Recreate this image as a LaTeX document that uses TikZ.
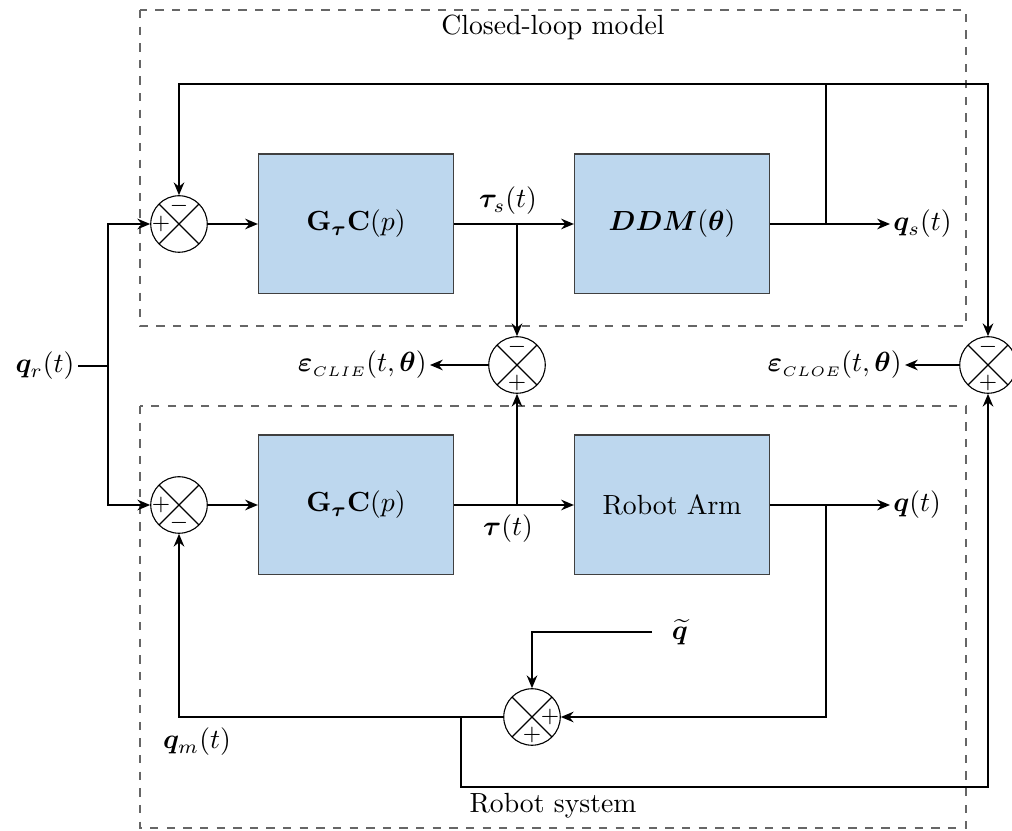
\documentclass[tikz,border=0pt]{standalone}
\usepackage{amsmath,bm}
\usetikzlibrary{arrows.meta,calc}
\definecolor{blockfill}{RGB}{189,215,238}
\begin{document}
\begin{tikzpicture}[x=0.361pt,y=-0.361pt,
  blk/.style={draw=black!75, fill=blockfill, minimum width=70.4pt, minimum height=50.5pt, inner sep=0pt},
  sumj/.style={draw, circle, minimum size=20.4pt, inner sep=0pt,
    path picture={
      \draw (path picture bounding box.north west) -- (path picture bounding box.south east);
      \draw (path picture bounding box.north east) -- (path picture bounding box.south west);}},
  sgn/.style={font=\footnotesize, inner sep=0pt},
  wire/.style={thick},
  arr/.style={thick, -{Stealth[length=4.6pt,width=3.8pt]}},
  frame/.style={draw=black!60, dashed, thin},
  lbl/.style={inner sep=1pt}]
\useasboundingbox (0,0) rectangle (1012,831);

% enclosing frames
\draw[frame] (140,10) rectangle (966,326);
\draw[frame] (140,406) rectangle (966,828);
\node (tclm) at (553,27) {Closed-loop model};
\node (trs) at (553,806) {Robot system};

% closed-loop model row
\node[sumj] (s1) at (179,224) {};
\node[blk] (g1) at (356,224) {$\mathbf{G}_{\boldsymbol{\tau}}\mathbf{C}(p)$};
\node[blk] (ddm) at (672,224) {$\boldsymbol{DDM}(\boldsymbol{\theta})$};

% robot system row
\node[sumj] (s2) at (179,505) {};
\node[blk] (g2) at (356,505) {$\mathbf{G}_{\boldsymbol{\tau}}\mathbf{C}(p)$};
\node[blk] (arm) at (672,505) {Robot Arm};

% error junctions
\node[sumj] (s3) at (517,365) {};
\node[sumj] (s4) at (988,365) {};
\node[sumj] (s5) at (532,717) {};

% signs
\node[sgn] at ($(s1)+(0,-18)$) {$-$};
\node[sgn] at ($(s1)+(-18,0)$) {$+$};
\node[sgn] at ($(s2)+(-18,0)$) {$+$};
\node[sgn] at ($(s2)+(0,18)$) {$-$};
\node[sgn] at ($(s3)+(0,-18)$) {$-$};
\node[sgn] at ($(s3)+(0,18)$) {$+$};
\node[sgn] at ($(s4)+(0,-18)$) {$-$};
\node[sgn] at ($(s4)+(0,18)$) {$+$};
\node[sgn] at ($(s5)+(18,0)$) {$+$};
\node[sgn] at ($(s5)+(0,18)$) {$+$};

% reference input
\node (qr) at (45,366) {$\boldsymbol{q}_r(t)$};
\coordinate (qrs) at (78,366);
\coordinate (qrj) at (108,366);
\draw[wire] (qrs) -- (qrj);
\draw[arr] (qrj) |- (s1.west);
\draw[arr] (qrj) |- (s2.west);

% closed-loop model paths
\draw[arr] (s1) -- (g1);
\coordinate (ts) at (517,224);
\draw[arr] (g1) -- (ddm);
\node[lbl] (tsl) at (508,201) {$\boldsymbol{\tau}_s(t)$};
\draw[arr] (ts) -- (s3.north);
\coordinate (qsj) at (826,224);
\coordinate (qse) at (890,224);
\draw[arr] (ddm) -- (qse);
\node[lbl, anchor=west] (qsl) at (qse) {$\boldsymbol{q}_s(t)$};
\coordinate (tl) at (179,84);
\coordinate (tr) at (988,84);
\draw[arr] (qsj) -- (826,84) -- (tl) -- (s1.north);
\draw[arr] (826,84) -- (tr) -- (s4.north);

% robot system paths
\draw[arr] (s2) -- (g2);
\draw[arr] (g2) -- (arm);
\coordinate (tj) at (517,505);
\node[lbl] (tl2) at (508,529) {$\boldsymbol{\tau}(t)$};
\draw[arr] (tj) -- (s3.south);
\coordinate (qe) at (890,505);
\draw[arr] (arm) -- (qe);
\node[lbl, anchor=west] (ql) at (qe) {$\boldsymbol{q}(t)$};
\coordinate (qj) at (826,505);
\draw[arr] (qj) |- (s5.east);

% measurement noise
\node[inner sep=1pt] (qt) at (680,632) {$\widetilde{\boldsymbol{q}}$};
\coordinate (qts) at (652,632);
\draw[arr] (qts) -| (s5.north);

% measured output feedback
\coordinate (mj) at (461,717);
\draw[arr] (s5.west) -| (s2.south);
\node (qm) at (197,742) {$\boldsymbol{q}_m(t)$};
\draw[arr] (mj) -- (461,787) -| (s4.south);

% output errors
\coordinate (ce1) at (430,365);
\draw[arr] (s3.west) -- (ce1);
\node[lbl, anchor=east] (e1) at (ce1) {$\boldsymbol{\varepsilon}_{\scriptscriptstyle CLIE}(t,\boldsymbol{\theta})$};
\coordinate (ce2) at (905,365);
\draw[arr] (s4.west) -- (ce2);
\node[lbl, anchor=east] (e2) at (ce2) {$\boldsymbol{\varepsilon}_{\scriptscriptstyle CLOE}(t,\boldsymbol{\theta})$};
\end{tikzpicture}
\end{document}
